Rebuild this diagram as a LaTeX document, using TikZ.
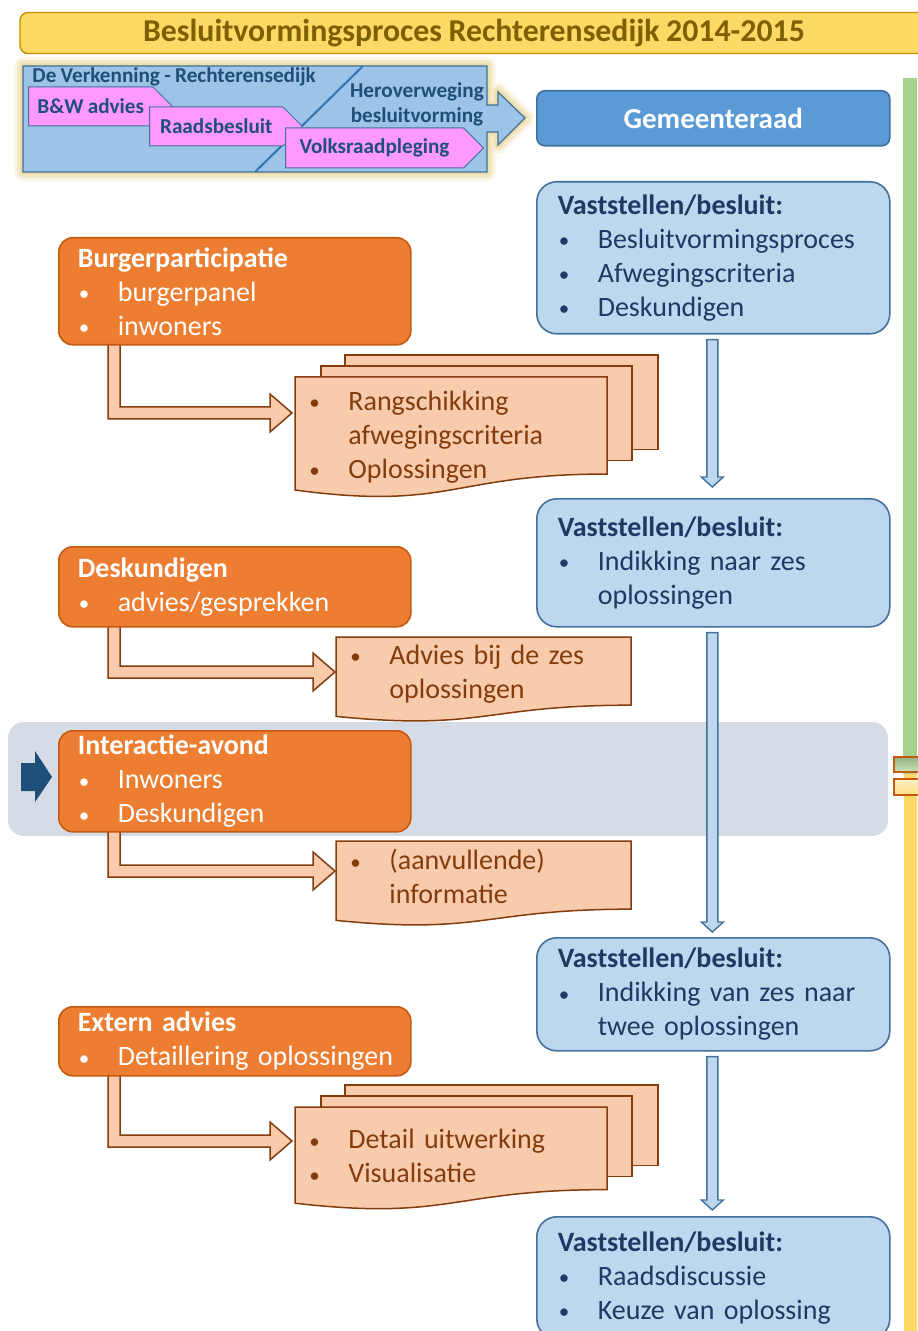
\documentclass[tikz,border=0pt]{standalone}
\usepackage{fontspec}
\setmainfont[WordSpace=0.9]{Carlito}
\usetikzlibrary{calc,shapes.symbols,backgrounds}

\definecolor{titlefill}{HTML}{FFD966}
\definecolor{titleline}{HTML}{BF9000}
\definecolor{titletext}{HTML}{7F6000}
\definecolor{minifill}{HTML}{9DC3E6}
\definecolor{miniline}{HTML}{41719C}
\definecolor{minitext}{HTML}{1F4E79}
\definecolor{diagline}{HTML}{2E75B6}
\definecolor{pinkfill}{HTML}{FF99FF}
\definecolor{glowcol}{HTML}{E6D28E}
\definecolor{raadfill}{HTML}{5B9BD5}
\definecolor{bluefill}{HTML}{BDD7EE}
\definecolor{blueline}{HTML}{41719C}
\definecolor{bluetext}{HTML}{1F3864}
\definecolor{orfill}{HTML}{ED7D31}
\definecolor{orline}{HTML}{C55A11}
\definecolor{peach}{HTML}{F8CBAD}
\definecolor{docline}{HTML}{843C0C}
\definecolor{bandfill}{HTML}{D6DCE5}
\definecolor{navy}{HTML}{1F4E79}
\definecolor{stripgreen}{HTML}{A9D18E}
\definecolor{stripyellow}{HTML}{FFD966}

\newcommand\bodyfont{\fontsize{14}{17}\selectfont}
\newcommand\minifont{\fontsize{10.6}{12.5}\selectfont\bfseries}
\newcommand\bul{\makebox[20pt][l]{\hspace{0.5pt}\raisebox{0.3pt}{\fontsize{10.5}{10}\selectfont\textbullet}}}
\newcommand\bitem[1]{\par\noindent\bul\mbox{#1}}
\newcommand\bnext[1]{\par\noindent\hspace*{20pt}\mbox{#1}}

% document page with wavy bottom: left, top, right, height
\newcommand\docshape[4]{%
  \filldraw[docpage] (#1,#2) -- (#3,#2) -- (#3,{#2+0.802*#4})
    .. controls ({(#1+#3)/2},{#2+0.802*#4}) and ({(#1+#3)/2},{#2+1.107*#4}) .. (#1,{#2+0.934*#4}) -- cycle;}
\newcommand\docstack[4]{%
  \filldraw[docpage] ({#1+50},{#2-22}) rectangle ({#3+51},{#2-22+0.78*#4});
  \filldraw[docpage] ({#1+26},{#2-11}) rectangle ({#3+25},{#2-11+0.78*#4});
  \docshape{#1}{#2}{#3}{#4}}

% bent block arrow from an orange box to a document
\newcommand\bentarrow[2]{%
  \path (#1) ++(56,-3) coordinate (bs);
  \filldraw[bendarrow] ($(bs)+(-6,0)$) |- ($(#2)+(-22,6)$) -- ++(0,13) -- (#2)
    -- ($(#2)+(-22,-19)$) -- ++(0,13) -| ($(bs)+(6,0)$) -- cycle;}

% straight block arrow downwards between decisions
\newcommand\blockdown[3]{%
  \path (#1) ++(-1,5) coordinate (ds) (#2) ++(-1,-#3) coordinate (de);
  \filldraw[downarrow] ($(ds)+(-5.5,0)$) -- ($(de)+(-5.5,-10)$) -- ++(-5.5,0) -- (de)
    -- ($(de)+(11,-10)$) -- ++(-5.5,0) -- ($(ds)+(5.5,0)$) -- cycle;}

\begin{document}
\begin{tikzpicture}[x=0.5pt,y=-0.5pt,
  titlebar/.style={rectangle,rounded corners=4pt,fill=titlefill,draw=titleline,line width=0.7pt,
    minimum width=454pt,minimum height=20pt,text=titletext,font=\fontsize{15.9}{18}\selectfont\bfseries},
  tag/.style={signal,signal to=east,signal pointer angle=90,fill=pinkfill,draw=miniline,line width=0.5pt,
    text=minitext,font=\minifont,inner sep=0pt,anchor=west},
  raadbox/.style={rectangle,rounded corners=4pt,fill=raadfill,draw=blueline,line width=0.8pt,anchor=north west,
    minimum width=176.5pt,minimum height=27.5pt,text=white,font=\fontsize{14.5}{17}\selectfont\bfseries},
  bluebox/.style={rectangle,rounded corners=10pt,fill=bluefill,draw=blueline,line width=0.8pt,anchor=north west,
    text width=155.5pt,inner xsep=10.5pt,inner ysep=0pt,align=left,text=bluetext,font=\bodyfont},
  orbox/.style={rectangle,rounded corners=7pt,fill=orfill,draw=orline,line width=0.8pt,anchor=north west,
    text width=157pt,inner xsep=9.5pt,inner ysep=0pt,align=left,text=white,font=\bodyfont},
  doctext/.style={anchor=west,inner sep=0pt,text width=140pt,align=left,text=docline,font=\bodyfont},
  docpage/.style={fill=peach,draw=docline,line width=0.75pt},
  bendarrow/.style={fill=peach,draw=docline,line width=0.75pt},
  downarrow/.style={fill=bluefill,draw=blueline,line width=0.7pt}]
\useasboundingbox (0,0) rectangle (917,1331);

% timeline strip on the right
\fill[stripgreen] (903,78) rectangle (917,774);
\fill[stripyellow] (904,774) rectangle (917,1331);
\draw[orline,line width=1pt,top color=stripgreen!80!black!90,bottom color=stripgreen!60!white] (894,757) rectangle (920,772);
\draw[orline,line width=1pt,top color=stripyellow!40!white,bottom color=stripyellow!80!white] (894,779) rectangle (920,795);

% title
\node[titlebar] (title) at (474,33) {Besluitvormingsproces Rechterensedijk 2014-2015};

% small overview of the process
\foreach \w/\o in {9pt/.2,6pt/.35,3pt/.5}
  \draw[glowcol,line width=\w,line join=round,opacity=\o]
    (23,66) -- (487,66) -- (487,105) -- (498,105) -- (498,92) -- (525,118) -- (498,145)
    -- (498,132) -- (487,132) -- (487,172) -- (23,172) -- cycle;
\filldraw[fill=minifill,draw=miniline,line width=0.6pt]
  (23,66) -- (487,66) -- (487,105) -- (498,105) -- (498,92) -- (525,118) -- (498,145)
  -- (498,132) -- (487,132) -- (487,172) -- (23,172) -- cycle;
\draw[diagline,line width=1pt] (363,66) -- (255,172);
\node[anchor=west,inner sep=0pt,text=minitext,font=\minifont] (verk) at (32,77) {De Verkenning - Rechterensedijk};
\node[tag,minimum width=72pt,minimum height=19.5pt] (bw) at (28,106.5) {B\&W advies};
\node[tag,minimum width=76.5pt,minimum height=19.5pt] (raadsb) at (149,126.5) {Raadsbesluit};
\node[tag,minimum width=99pt,minimum height=20pt] (volks) at (285,148) {Volksraadpleging};
\node[align=center,inner sep=0pt,text=minitext,font=\minifont] (herov) at (417,104) {Heroverweging\\besluitvorming};

% interaction evening band
\begin{scope}[on background layer]
\fill[bandfill,rounded corners=8pt] (8,722) rectangle (888,836);
\end{scope}
\fill[navy] (21,763) -- (35,763) -- (35,751) -- (52,777) -- (35,802) -- (35,791) -- (21,791) -- cycle;

% council
\node[raadbox] (raad) at (536,90) {Gemeenteraad};
\node[bluebox,minimum height=76pt] (vs1) at (536,181)
  {\textbf{Vaststellen/besluit:}\bitem{Besluitvormingsproces}\bitem{Afwegingscriteria}\bitem{Deskundigen}};
\node[bluebox,minimum height=64pt] (vs2) at (536,498)
  {\textbf{Vaststellen/besluit:}\bitem{Indikking naar zes}\bnext{oplossingen}};
\node[bluebox,minimum height=56.5pt] (vs3) at (536,937)
  {\textbf{Vaststellen/besluit:}\bitem{Indikking van zes naar}\bnext{twee oplossingen}};
\node[bluebox,minimum height=61pt] (vs4) at (536,1216)
  {\textbf{Vaststellen/besluit:}\bitem{Raadsdiscussie}\bitem{Keuze van oplossing}};

\blockdown{vs1.south}{vs2.north}{11}
\blockdown{vs2.south}{vs3.north}{5}
\blockdown{vs3.south}{vs4.north}{6}

% input from outside
\node[orbox,minimum height=53.5pt] (burg) at (58,237)
  {\textbf{Burgerparticipatie}\bitem{burgerpanel}\bitem{inwoners}};
\node[orbox,minimum height=40pt] (desk) at (58,546)
  {\textbf{Deskundigen}\bitem{advies/gesprekken}};
\node[orbox,minimum height=50.5pt] (inter) at (58,730)
  {\textbf{Interactie-avond}\bitem{Inwoners}\bitem{Deskundigen}};
\node[orbox,minimum height=34.5pt] (extern) at (58,1006)
  {\textbf{Extern advies}\bitem{Detaillering oplossingen}};

% documents
\docstack{295}{377}{607}{121}
\node[doctext] (rang) at (308,429.5) {\bitem{Rangschikking}\bnext{afwegingscriteria}\bitem{Oplossingen}};
\docshape{336}{637}{631}{85}
\node[doctext] (advies) at (349,667) {\bitem{Advies bij de zes}\bnext{oplossingen}};
\docshape{336}{841}{631}{85}
\node[doctext] (info) at (349,870) {\bitem{(aanvullende)}\bnext{informatie}};
\docstack{295}{1107}{607}{103}
\node[doctext] (detail) at (308,1149) {\bitem{Detail uitwerking}\bitem{Visualisatie}};

\coordinate (rangtip) at (292,413);
\coordinate (adviestip) at (335,672);
\coordinate (infotip) at (335,871);
\coordinate (detailtip) at (292,1141);
\begin{scope}[on background layer]
\bentarrow{burg.south west}{rangtip}
\bentarrow{desk.south west}{adviestip}
\bentarrow{inter.south west}{infotip}
\bentarrow{extern.south west}{detailtip}
\end{scope}
\end{tikzpicture}
\end{document}
